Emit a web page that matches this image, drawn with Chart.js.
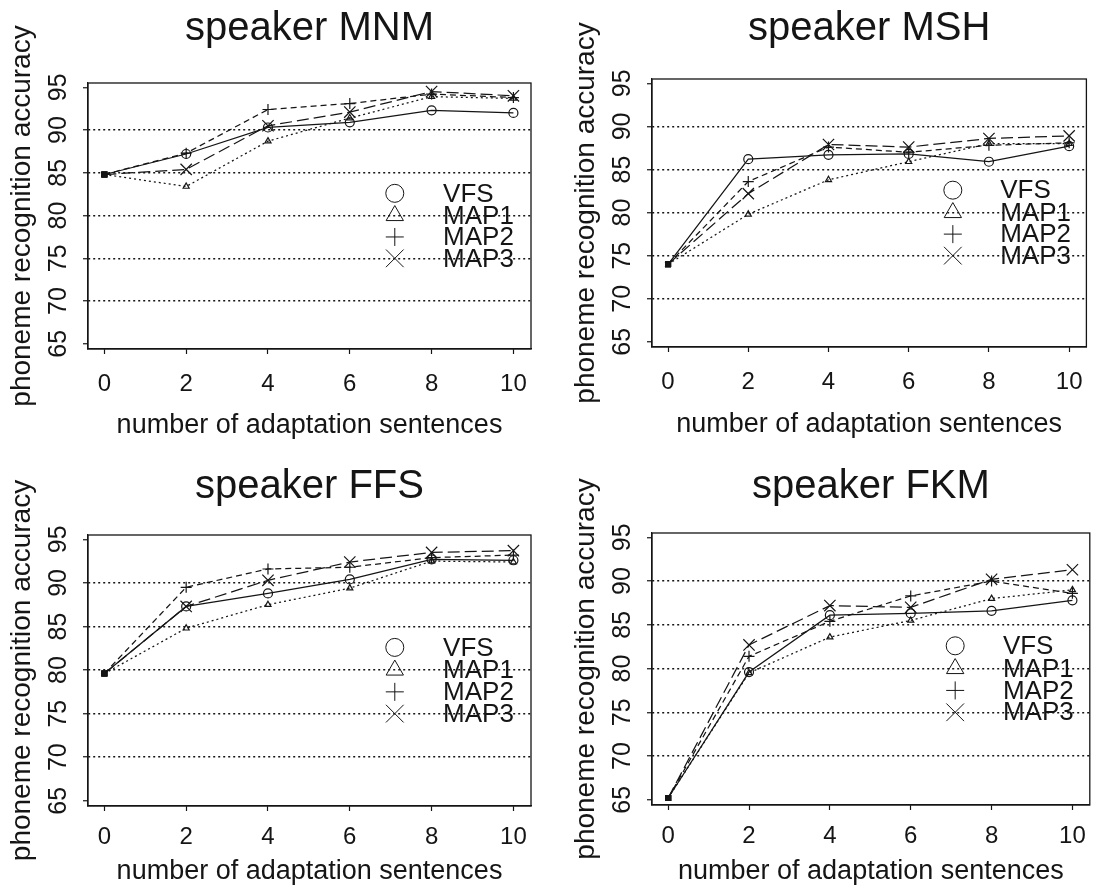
<!DOCTYPE html>
<html>
<head>
<meta charset="utf-8">
<title>phoneme recognition accuracy</title>
<script src="https://cdn.jsdelivr.net/npm/chart.js@4.4.0/dist/chart.umd.min.js"></script>
<style>
  html, body { margin: 0; padding: 0; background: #fff; }
  body { width: 1099px; height: 894px; position: relative; overflow: hidden; }
  .panel { position: absolute; }
</style>
</head>
<body>
<div class="panel" style="left:0;top:0;width:549px;height:447px"><canvas id="chartMNM"></canvas></div>
<div class="panel" style="left:564px;top:0;width:535px;height:447px"><canvas id="chartMSH"></canvas></div>
<div class="panel" style="left:0;top:450px;width:549px;height:444px"><canvas id="chartFFS"></canvas></div>
<div class="panel" style="left:564px;top:450px;width:535px;height:444px"><canvas id="chartFKM"></canvas></div>
<script>
/* ---- data ---- */
const sentences = [0, 2, 4, 6, 8, 10];
const methods = ['VFS', 'MAP1', 'MAP2', 'MAP3'];

const mnmVFS  = [84.8, 87.2, 90.3, 90.9, 92.3, 92.0];
const mnmMAP1 = [84.8, 83.4, 88.7, 91.4, 93.9, 93.7];
const mnmMAP2 = [84.8, 87.3, 92.4, 93.1, 94.2, 93.8];
const mnmMAP3 = [84.8, 85.4, 90.5, 92.1, 94.5, 94.0];

const mshVFS  = [74.0, 86.2, 86.7, 86.8, 85.9, 87.7];
const mshMAP1 = [74.0, 79.8, 83.8, 85.9, 88.0, 88.0];
const mshMAP2 = [74.0, 83.6, 87.6, 87.0, 87.8, 88.1];
const mshMAP3 = [74.0, 82.2, 87.9, 87.6, 88.6, 88.9];

const ffsVFS  = [79.6, 87.3, 88.8, 90.4, 92.7, 92.6];
const ffsMAP1 = [79.6, 84.8, 87.5, 89.4, 92.5, 92.4];
const ffsMAP2 = [79.6, 89.5, 91.6, 91.8, 92.9, 93.2];
const ffsMAP3 = [79.6, 87.3, 90.3, 92.4, 93.5, 93.7];

const fkmVFS  = [65.2, 79.6, 86.1, 86.3, 86.6, 87.8];
const fkmMAP1 = [65.2, 79.5, 83.6, 85.5, 88.0, 89.0];
const fkmMAP2 = [65.2, 81.4, 85.4, 88.3, 90.0, 88.6];
const fkmMAP3 = [65.2, 82.7, 87.2, 87.0, 90.2, 91.3];

/* ---- styling ---- */
const ink = '#151515';
const FONT = "'Liberation Sans', Arial, Helvetica, sans-serif";

// line / marker look per method (same order as methods)
// r = marker on the lines, lr = symbol in the legend
const looks = [
  { dash: [],      style: 'circle',   r: 4.5, lr: 9 },
  { dash: [2, 3],  style: 'triangle', r: 3.5, lr: 10 },
  { dash: [6, 4],  style: 'cross',    r: 5.5, lr: 9 },
  { dash: [12, 5], style: 'crossRot', r: 8,   lr: 12.5 }
];

function makeDatasets(series) {
  return series.map((vals, i) => ({
    label: methods[i],
    data: sentences.map((s, k) => ({ x: s, y: vals[k] })),
    borderColor: ink,
    borderWidth: 1.25,
    borderDash: looks[i].dash,
    showLine: true,
    tension: 0,
    // the shared start point is drawn as a small filled square
    pointStyle: (c) => c.dataIndex === 0 ? 'rect' : looks[i].style,
    pointRadius: (c) => c.dataIndex === 0 ? 3.5 : looks[i].r,
    pointBackgroundColor: (c) => c.dataIndex === 0 ? ink : 'rgba(0,0,0,0)',
    pointBorderColor: ink,
    pointBorderWidth: 1.2
  }));
}

/* box round the plot area */
const frame = {
  id: 'frame',
  afterDraw(chart) {
    const { ctx, chartArea: a } = chart;
    ctx.save();
    ctx.strokeStyle = ink;
    ctx.lineWidth = 1.3;
    ctx.strokeRect(a.left, a.top, a.right - a.left, a.bottom - a.top);
    ctx.restore();
  }
};

/* legend drawn inside the plot, on the right */
const insideLegend = {
  id: 'insideLegend',
  afterDatasetsDraw(chart) {
    const { ctx, scales: { x, y } } = chart;
    const rowsAt = [82.6, 80, 77.5, 75];
    const symX = x.getPixelForValue(7.1);
    const txtX = x.getPixelForValue(8.28);
    ctx.save();
    ctx.font = '26px ' + FONT;
    ctx.textBaseline = 'middle';
    ctx.textAlign = 'left';
    chart.data.datasets.forEach((ds, i) => {
      const py = y.getPixelForValue(rowsAt[i]);
      ctx.strokeStyle = ink;
      ctx.fillStyle = 'rgba(0,0,0,0)';
      Chart.helpers.drawPoint(ctx, { pointStyle: looks[i].style, radius: looks[i].lr, borderWidth: 1.3, rotation: 0 }, symX, py);
      ctx.fillStyle = ink;
      ctx.fillText(ds.label, txtX, py + 1);
    });
    ctx.restore();
  }
};

function buildChart(id, name, series, lay) {
  const el = document.getElementById(id);
  if (!el) return;
  new Chart(el, {
    type: 'scatter',
    data: { datasets: makeDatasets(series) },
    plugins: [frame, insideLegend],
    options: {
      responsive: true,
      maintainAspectRatio: false,
      animation: false,
      layout: { padding: { left: 0, top: 0, right: lay.pr, bottom: lay.pb } },
      plugins: {
        legend: { display: false },
        tooltip: { enabled: false },
        title: {
          display: true,
          fullSize: false,
          text: 'speaker ' + name,
          color: ink,
          font: { family: FONT, size: 40, weight: 'normal' },
          padding: { top: lay.tt, bottom: lay.tb }
        }
      },
      scales: {
        x: {
          type: 'linear',
          min: -0.4,
          max: 10.43,
          afterFit: (s) => { s.height = lay.xh; },
          grid: { drawOnChartArea: false, drawTicks: true, tickLength: 5, tickColor: ink, tickWidth: 1.2 },
          border: { display: true, color: ink, width: 1.2 },
          ticks: {
            stepSize: 2,
            includeBounds: false,
            autoSkip: false,
            maxRotation: 0,
            padding: lay.xp,
            color: ink,
            font: { family: FONT, size: 24 }
          },
          title: {
            display: true,
            text: 'number of adaptation sentences',
            color: ink,
            font: { family: FONT, size: 27 },
            padding: 0
          }
        },
        y: {
          type: 'linear',
          min: 64.4,
          max: 95.5,
          afterFit: (s) => { s.width = 88; },
          grid: {
            color: (c) => (c.tick && (c.tick.value === 65 || c.tick.value === 95)) ? 'rgba(0,0,0,0)' : ink,
            lineWidth: 1.5,
            drawTicks: true,
            tickLength: 5,
            tickColor: ink,
            tickWidth: 1.2,
            tickBorderDash: []
          },
          border: { display: true, color: ink, width: 1.2, dash: [2, 3] },
          ticks: {
            stepSize: 5,
            includeBounds: false,
            autoSkip: false,
            minRotation: 90,
            maxRotation: 90,
            crossAlign: 'center',
            padding: 10,
            color: ink,
            font: { family: FONT, size: 25 }
          },
          title: {
            display: true,
            text: 'phoneme recognition accuracy',
            color: ink,
            font: { family: FONT, size: 28 },
            padding: { top: 5, bottom: 0 },
            align: 'center'
          }
        }
      }
    }
  });
}

buildChart('chartMNM', 'MNM', [mnmVFS, mnmMAP1, mnmMAP2, mnmMAP3], { pr: 18, pb: 5.4, tt: 5, tb: 30, xp: 16, xh: 92.6 });
buildChart('chartMSH', 'MSH', [mshVFS, mshMAP1, mshMAP2, mshMAP3], { pr: 5, pb: 6.4, tt: 5, tb: 26, xp: 16, xh: 93.6 });
buildChart('chartFFS', 'FFS', [ffsVFS, ffsMAP1, ffsMAP2, ffsMAP3], { pr: 18, pb: 5.8, tt: 13, tb: 24, xp: 12, xh: 82.2 });
buildChart('chartFKM', 'FKM', [fkmVFS, fkmMAP1, fkmMAP2, fkmMAP3], { pr: 5, pb: 6.4, tt: 13, tb: 22, xp: 12, xh: 82.6 });
</script>
</body>
</html>
